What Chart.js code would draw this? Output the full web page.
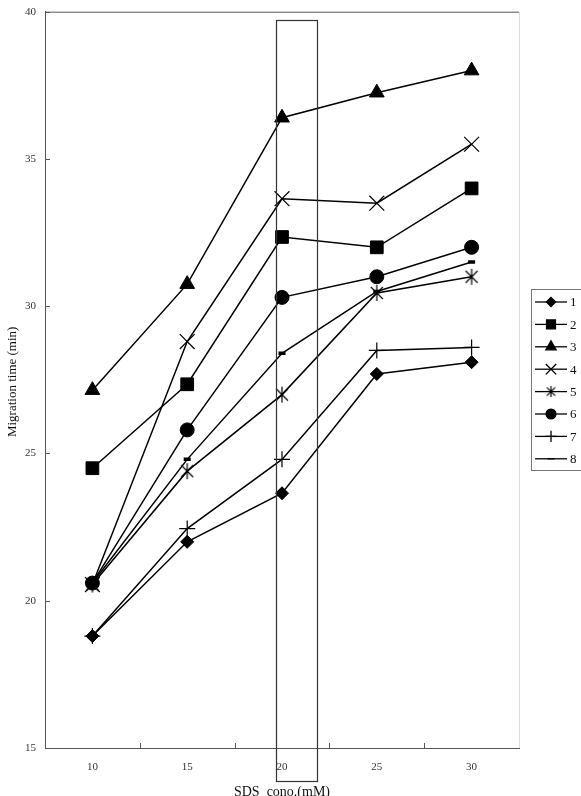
<!DOCTYPE html>
<html>
<head>
<meta charset="utf-8">
<script src="https://cdn.jsdelivr.net/npm/chart.js@4.4.0/dist/chart.umd.min.js"></script>
<style>
  body { margin: 0; background: #fff; }
  canvas { display: block; }
</style>
</head>
<body>
<canvas id="chart" width="581" height="796"></canvas>
<script>
// data
const categories = ["10", "15", "20", "25", "30"];
const seriesNames = ["1", "2", "3", "4", "5", "6", "7", "8"];
const s1 = [18.8, 22.0, 23.65, 27.7, 28.1];
const s2 = [24.5, 27.35, 32.35, 32.0, 34.0];
const s3 = [27.15, 30.75, 36.4, 37.25, 38.0];
const s4 = [20.55, 28.8, 33.65, 33.5, 35.5];
const s5 = [20.55, 24.4, 27.0, 30.45, 31.0];
const s6 = [20.6, 25.8, 30.3, 31.0, 32.0];
const s7 = [18.8, 22.45, 24.8, 28.5, 28.6];
const s8 = [20.6, 24.8, 28.4, 30.5, 31.5];
const yTicks = [15, 20, 25, 30, 35, 40];

const FONT = "'Liberation Serif', 'DejaVu Serif', serif";

// 6-armed asterisk marker
function makeAsterisk(r) {
  const c = document.createElement("canvas");
  c.width = c.height = Math.ceil(2 * r + 2);
  const g = c.getContext("2d");
  const m = c.width / 2;
  g.strokeStyle = "#000";
  g.lineWidth = 1.2;
  g.beginPath();
  g.moveTo(m, m - r); g.lineTo(m, m + r);
  const d = r * 0.75;
  g.moveTo(m - d, m - d); g.lineTo(m + d, m + d);
  g.moveTo(m - d, m + d); g.lineTo(m + d, m - d);
  g.stroke();
  return c;
}
const starBig = makeAsterisk(8);
const starSmall = makeAsterisk(5.5);

const seriesData = [s1, s2, s3, s4, s5, s6, s7, s8];
const markers = [
  { style: "rectRot", r: 6.5, bw: 1 },
  { style: "rect", r: 9, bw: 1 },
  { style: "triangle", r: 8.5, bw: 1 },
  { style: "crossRot", r: 10.5, bw: 1.2 },
  { style: starBig, r: 8, bw: 1 },
  { style: "circle", r: 7, bw: 1 },
  { style: "cross", r: 8, bw: 1.2 },
  { style: "line", r: 3.5, bw: 3.5 }
];

const datasets = seriesData.map((d, i) => ({
  label: seriesNames[i],
  data: d,
  borderColor: "#000",
  backgroundColor: "#000",
  borderWidth: 1.5,
  pointStyle: markers[i].style,
  pointRadius: markers[i].r,
  pointBorderWidth: markers[i].bw,
  pointBackgroundColor: "#000",
  pointBorderColor: "#000",
  tension: 0
}));

const extras = {
  id: "extras",
  afterDraw(chart) {
    const ctx = chart.ctx;
    const a = chart.chartArea;
    const xs = chart.scales.x;
    const ys = chart.scales.y;
    ctx.save();

    // frame top / right
    ctx.strokeStyle = "#555";
    ctx.lineWidth = 1;
    ctx.beginPath();
    ctx.moveTo(a.left, a.top + 0.5);
    ctx.lineTo(a.right, a.top + 0.5);
    ctx.stroke();
    ctx.strokeStyle = "#ddd";
    ctx.beginPath();
    ctx.moveTo(a.right + 0.5, a.top);
    ctx.lineTo(a.right + 0.5, a.bottom);
    ctx.stroke();

    // inward ticks
    ctx.strokeStyle = "#555";
    ctx.beginPath();
    yTicks.forEach(v => {
      const y = Math.round(ys.getPixelForValue(v)) + 0.5;
      ctx.moveTo(a.left, y);
      ctx.lineTo(a.left + 5, y);
    });
    const step = xs.getPixelForValue(1) - xs.getPixelForValue(0);
    for (let i = 0; i < categories.length - 1; i++) {
      const x = Math.round(xs.getPixelForValue(i) + step / 2) + 0.5;
      ctx.moveTo(x, a.bottom);
      ctx.lineTo(x, a.bottom - 5);
    }
    ctx.stroke();

    // highlight box round the 20 mM column
    const bx = Math.round(xs.getPixelForValue(2)) - 6;
    ctx.strokeStyle = "#333";
    ctx.lineWidth = 1.2;
    ctx.strokeRect(bx + 0.5, 20.5, 41, 761);

    // axis titles
    ctx.fillStyle = "#111";
    ctx.font = "13px " + FONT;
    ctx.textAlign = "center";
    ctx.textBaseline = "middle";
    ctx.save();
    ctx.translate(13, (a.top + a.bottom) / 2 + 2);
    ctx.rotate(-Math.PI / 2);
    ctx.fillText("Migration time (min)", 0, 0);
    ctx.restore();
    ctx.font = "14px " + FONT;
    ctx.textBaseline = "alphabetic";
    ctx.fillText("SDS  cono.(mM)", xs.getPixelForValue(2), 796);

    // legend
    const lx = 531, ly = 289, lh = 181;
    ctx.strokeStyle = "#777";
    ctx.lineWidth = 1;
    ctx.strokeRect(lx + 0.5, ly + 0.5, 60, lh);
    ctx.font = "13px " + FONT;
    ctx.textAlign = "left";
    ctx.textBaseline = "middle";
    datasets.forEach((ds, i) => {
      const y = ly + 13 + i * 22.4;
      ctx.strokeStyle = "#000";
      ctx.lineWidth = 1.3;
      ctx.beginPath();
      ctx.moveTo(lx + 4, y);
      ctx.lineTo(lx + 36, y);
      ctx.stroke();
      const mk = markers[i];
      ctx.fillStyle = "#000";
      Chart.helpers.drawPoint(ctx, {
        pointStyle: mk.style === starBig ? starSmall : mk.style,
        radius: mk.style === "line" ? 3.5 : mk.r * 0.7,
        rotation: 0,
        borderWidth: mk.style === "line" ? 3 : 1
      }, lx + 20, y);
      ctx.fillStyle = "#111";
      ctx.fillText(ds.label, lx + 39, y + 1);
    });

    ctx.restore();
  }
};

new Chart(document.getElementById("chart"), {
  type: "line",
  data: { labels: categories, datasets: datasets },
  options: {
    responsive: false,
    devicePixelRatio: 1,
    animation: false,
    events: [],
    layout: { padding: { left: 0, right: 62, top: 8, bottom: 0 } },
    plugins: { legend: { display: false }, tooltip: { enabled: false } },
    scales: {
      x: {
        type: "category",
        offset: true,
        grid: { display: true, drawOnChartArea: false, drawTicks: false, offset: true },
        border: { color: "#555", width: 1 },
        ticks: { color: "#333", padding: 13, font: { family: FONT, size: 11 } },
        afterFit(s) { s.height = 48; s.paddingLeft = 0; s.paddingRight = 0; }
      },
      y: {
        min: 15,
        max: 40,
        grid: { display: true, drawOnChartArea: false, drawTicks: false },
        border: { color: "#555", width: 1 },
        ticks: { stepSize: 5, color: "#333", padding: 9, font: { family: FONT, size: 11 } },
        afterFit(s) { s.width = 45; s.paddingTop = 0; s.paddingBottom = 0; }
      }
    }
  },
  plugins: [extras]
});
</script>
</body>
</html>
